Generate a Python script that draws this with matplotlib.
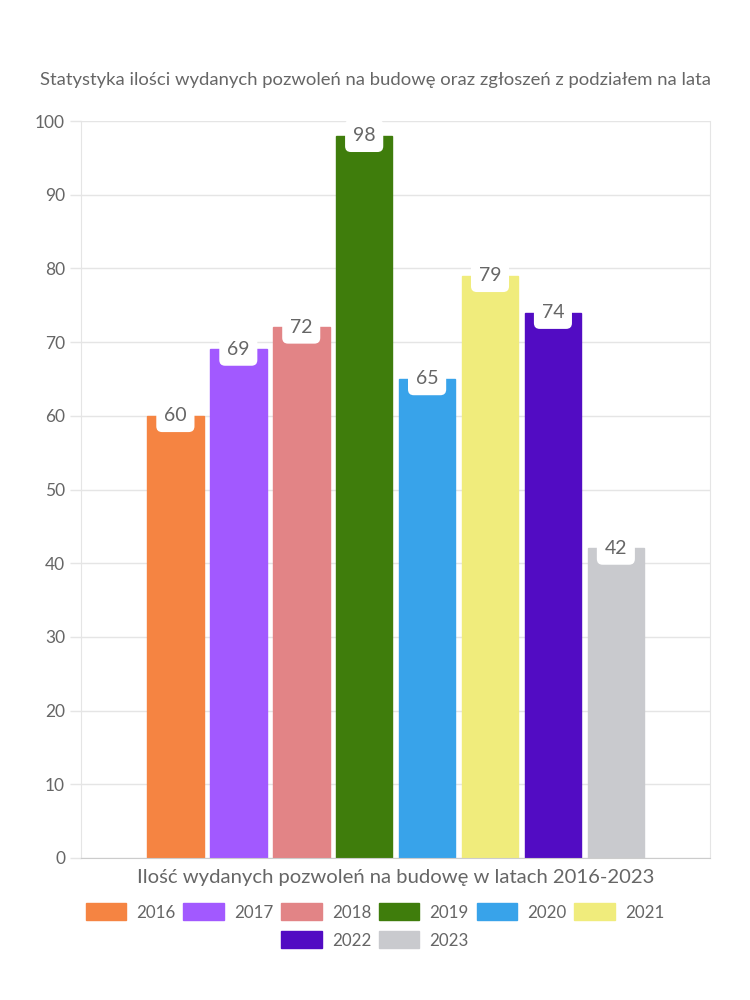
import matplotlib.pyplot as plt
from matplotlib.patches import Patch

plt.rcParams['font.family'] = ['Lato', 'DejaVu Sans']

years = ["2016", "2017", "2018", "2019", "2020", "2021", "2022", "2023"]
values = [60, 69, 72, 98, 65, 79, 74, 42]
colors = ["#F58442", "#A259FF", "#E28486", "#3F7D0C", "#38A3EA", "#F0EC7C", "#520CC3", "#C9CACE"]

title = "Statystyka ilości wydanych pozwoleń na budowę oraz zgłoszeń z podziałem na lata"
xlabel = "Ilość wydanych pozwoleń na budowę w latach 2016-2023"
text_color = "#666666"
grid_color = "#e5e5e5"

fig = plt.figure(figsize=(7.5, 10), dpi=100)
ax = fig.add_axes([0.108, 0.142, 0.839, 0.737])

# one category, bars grouped like chart.js (categoryPercentage 0.8, barPercentage 0.9)
n = len(years)
slot = 0.8 / n
for i, (year, val, col) in enumerate(zip(years, values, colors)):
    x = (i - (n - 1) / 2) * slot
    ax.bar(x, val, width=slot * 0.9, color=col, edgecolor=col, linewidth=1, zorder=2)
    ax.text(x, val, str(val), ha="center", va="center", fontsize=14, color=text_color, zorder=4,
            bbox=dict(boxstyle="round,pad=0.4,rounding_size=0.3", fc="white", ec="none"))

ax.set_xlim(-0.5, 0.5)
ax.set_ylim(0, 100)
ax.set_yticks(range(0, 101, 10))
ax.set_xticks([])
ax.grid(axis="y", color=grid_color, linewidth=1, zorder=0)
ax.tick_params(axis="y", colors=grid_color, labelcolor=text_color, labelsize=12.5, length=8, width=1)
for side in ["left", "right", "bottom"]:
    ax.spines[side].set_color(grid_color)
ax.spines["top"].set_visible(False)
ax.spines["bottom"].set_color("#cccccc")

ax.set_xlabel(xlabel, fontsize=14.6, color=text_color, labelpad=8)
fig.text(0.5, 0.92, title, ha="center", va="center", fontsize=13.3, color=text_color)

handles = [Patch(facecolor=c, edgecolor=c) for c in colors]
legend_kw = dict(loc="center", frameon=False, fontsize=12.2, labelcolor=text_color,
                 handlelength=2.4, handleheight=1.15, handletextpad=0.6, columnspacing=0.45)
fig.legend(handles[:6], years[:6], bbox_to_anchor=(0.5, 0.088), ncol=6, **legend_kw)
fig.legend(handles[6:], years[6:], bbox_to_anchor=(0.5, 0.06), ncol=2, **legend_kw)

fig.savefig("out.png", dpi=100)
